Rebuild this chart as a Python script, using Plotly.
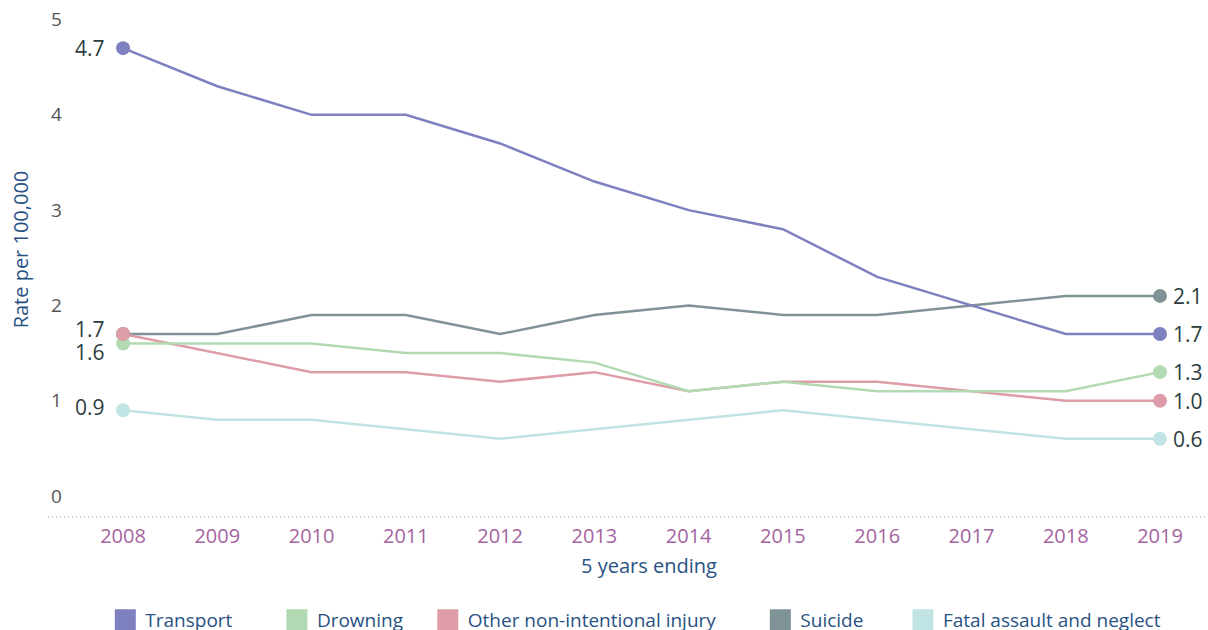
import plotly.graph_objects as go

years = [2008, 2009, 2010, 2011, 2012, 2013, 2014, 2015, 2016, 2017, 2018, 2019]

transport = [4.7, 4.3, 4.0, 4.0, 3.7, 3.3, 3.0, 2.8, 2.3, 2.0, 1.7, 1.7]
drowning = [1.6, 1.6, 1.6, 1.5, 1.5, 1.4, 1.1, 1.2, 1.1, 1.1, 1.1, 1.3]
other_injury = [1.7, 1.5, 1.3, 1.3, 1.2, 1.3, 1.1, 1.2, 1.2, 1.1, 1.0, 1.0]
suicide = [1.7, 1.7, 1.9, 1.9, 1.7, 1.9, 2.0, 1.9, 1.9, 2.0, 2.1, 2.1]
assault = [0.9, 0.8, 0.8, 0.7, 0.6, 0.7, 0.8, 0.9, 0.8, 0.7, 0.6, 0.6]

y_ticks = [0, 1, 2, 3, 4, 5]

FONT = "Open Sans"
LABEL_COLOR = "#2c3d40"
TITLE_COLOR = "#285283"
TICK_COLOR = "#a5649f"
NBSP = "\u00a0"

# name, values, colour, start-label y nudge (None = no start label), legend padding
series = [
    ("Transport", transport, "#7f80c0", 0, 8),
    ("Drowning", drowning, "#b1dab3", -8, 4),
    ("Other non-intentional injury", other_injury, "#de9ca8", 5, 8),
    ("Suicide", suicide, "#7f9397", None, 7),
    ("Fatal assault and neglect", assault, "#c0e4e3", 3, 0),
]

fig = go.Figure()

lookup = {s[0]: s for s in series}

# lines (drawn first so the end markers sit on top)
line_order = ["Suicide", "Fatal assault and neglect", "Other non-intentional injury",
              "Drowning", "Transport"]
for name in line_order:
    _, vals, col, _, _ = lookup[name]
    fig.add_trace(go.Scatter(
        x=years, y=vals, mode="lines", line=dict(color=col, width=2.5),
        showlegend=False, hoverinfo="skip",
    ))

# end-point markers
marker_order = ["Suicide", "Fatal assault and neglect", "Drowning",
                "Other non-intentional injury", "Transport"]
for name in marker_order:
    _, vals, col, _, _ = lookup[name]
    fig.add_trace(go.Scatter(
        x=[years[0], years[-1]], y=[vals[0], vals[-1]], mode="markers",
        marker=dict(color=col, size=14, line=dict(width=0)),
        showlegend=False, hoverinfo="skip",
    ))

# legend entries with square swatches
for name, vals, col, _, pad in series:
    fig.add_trace(go.Scatter(
        x=[None], y=[None], mode="markers", name=name + NBSP * pad,
        marker=dict(symbol="square", color=col, size=16, line=dict(color=col, width=5)),
    ))

annotations = []
for name, vals, col, nudge, _ in series:
    if nudge is not None:
        annotations.append(dict(
            x=years[0], y=vals[0], text=f"{vals[0]:.1f}", showarrow=False,
            xanchor="right", yanchor="middle", xshift=-16, yshift=nudge,
            font=dict(family=FONT, size=21, color=LABEL_COLOR),
        ))
    annotations.append(dict(
        x=years[-1], y=vals[-1], text=f"{vals[-1]:.1f}", showarrow=False,
        xanchor="left", yanchor="middle", xshift=11,
        font=dict(family=FONT, size=21, color=LABEL_COLOR),
    ))

annotations.append(dict(
    x=0.518, xref="paper", y=-0.093, yref="paper", text="5 years ending",
    showarrow=False, xanchor="center", yanchor="middle",
    font=dict(family=FONT, size=20, color=TITLE_COLOR),
))
annotations.append(dict(
    x=-0.024, xref="paper", y=0.518, yref="paper", text="Rate per 100,000",
    showarrow=False, textangle=-90, xanchor="center", yanchor="middle",
    font=dict(family=FONT, size=20, color=TITLE_COLOR),
))

fig.update_layout(
    width=1208, height=630,
    margin=dict(l=48, r=0, t=0, b=113, autoexpand=False),
    paper_bgcolor="white", plot_bgcolor="white",
    font=dict(family=FONT, size=18),
    xaxis=dict(
        range=[2007.204, 2019.509], tickmode="array", tickvals=years,
        ticktext=[str(y) for y in years], showgrid=False, zeroline=False,
        showline=False, ticks="", tickfont=dict(family=FONT, size=20, color=TICK_COLOR),
        ticklabelstandoff=5,
    ),
    yaxis=dict(
        range=[-0.22, 5.205], tickmode="array", tickvals=y_ticks,
        ticktext=[str(v) for v in y_ticks], showgrid=False, zeroline=False,
        showline=False, ticks="", ticklabelposition="inside",
        tickfont=dict(family=FONT, size=19, color="#555555"),
    ),
    legend=dict(
        orientation="h", x=0.0494, xanchor="left", y=-0.199, yanchor="middle",
        font=dict(family=FONT, size=19, color=TITLE_COLOR),
        itemclick=False, itemdoubleclick=False,
    ),
    annotations=annotations,
    shapes=[dict(
        type="line", xref="paper", yref="paper", x0=0, x1=1, y0=0, y1=0,
        line=dict(color="#8aa3a3", width=1, dash="1px,3px"),
    )],
    showlegend=True,
)

fig.write_html("out.html")
